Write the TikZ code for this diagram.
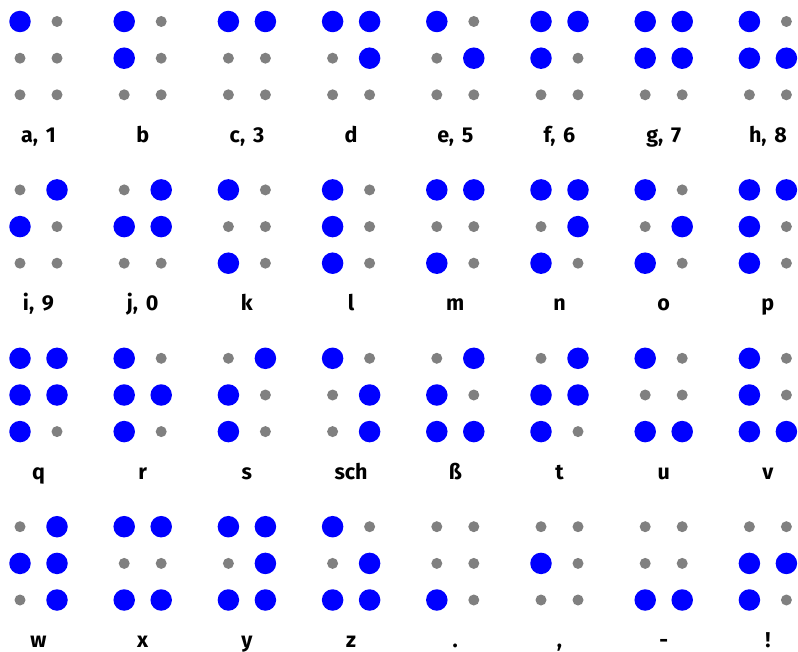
\documentclass[tikz,border=0pt]{standalone}
\usepackage{fontspec}
\setmainfont{Fira Sans}
\definecolor{brblue}{RGB}{0,0,255}
\definecolor{brgray}{RGB}{128,128,128}
\newcommand\brlblfont{\bfseries\fontsize{21.5}{23}\selectfont}
\tikzset{
  bd/.style={circle, fill=brblue, inner sep=0pt, minimum size=21.5pt},
  gd/.style={circle, fill=brgray, inner sep=0pt, minimum size=11pt},
  lbl/.style={font=\brlblfont, anchor=base, inner sep=0pt}
}
\newcommand\brcell[9]{%
  \pgfmathsetmacro\cx{20+104.2*#1}%
  \pgfmathsetmacro\cy{21.5+168.4*#2}%
  \node[#3] (c#1r#2d1) at (\cx, -\cy) {};
  \node[#4] (c#1r#2d2) at (\cx, -\cy-36.7) {};
  \node[#5] (c#1r#2d3) at (\cx, -\cy-73.3) {};
  \node[#6] (c#1r#2d4) at (\cx+37, -\cy) {};
  \node[#7] (c#1r#2d5) at (\cx+37, -\cy-36.7) {};
  \node[#8] (c#1r#2d6) at (\cx+37, -\cy-73.3) {};
  \node[lbl] (c#1r#2l) at (\cx+18.5, -\cy-120.8) {\spaceskip=0.36em #9};
}
\begin{document}
\begin{tikzpicture}[x=1pt,y=1pt]
\useasboundingbox (0,0) rectangle (798,-652);
% row 1
\brcell{0}{0}{bd}{gd}{gd}{gd}{gd}{gd}{a, 1}
\brcell{1}{0}{bd}{bd}{gd}{gd}{gd}{gd}{b}
\brcell{2}{0}{bd}{gd}{gd}{bd}{gd}{gd}{c, 3}
\brcell{3}{0}{bd}{gd}{gd}{bd}{bd}{gd}{d}
\brcell{4}{0}{bd}{gd}{gd}{gd}{bd}{gd}{e, 5}
\brcell{5}{0}{bd}{bd}{gd}{bd}{gd}{gd}{f, 6}
\brcell{6}{0}{bd}{bd}{gd}{bd}{bd}{gd}{g, 7}
\brcell{7}{0}{bd}{bd}{gd}{gd}{bd}{gd}{h, 8}
% row 2
\brcell{0}{1}{gd}{bd}{gd}{bd}{gd}{gd}{i, 9}
\brcell{1}{1}{gd}{bd}{gd}{bd}{bd}{gd}{j, 0}
\brcell{2}{1}{bd}{gd}{bd}{gd}{gd}{gd}{k}
\brcell{3}{1}{bd}{bd}{bd}{gd}{gd}{gd}{l}
\brcell{4}{1}{bd}{gd}{bd}{bd}{gd}{gd}{m}
\brcell{5}{1}{bd}{gd}{bd}{bd}{bd}{gd}{n}
\brcell{6}{1}{bd}{gd}{bd}{gd}{bd}{gd}{o}
\brcell{7}{1}{bd}{bd}{bd}{bd}{gd}{gd}{p}
% row 3
\brcell{0}{2}{bd}{bd}{bd}{bd}{bd}{gd}{q}
\brcell{1}{2}{bd}{bd}{bd}{gd}{bd}{gd}{r}
\brcell{2}{2}{gd}{bd}{bd}{bd}{gd}{gd}{s}
\brcell{3}{2}{bd}{gd}{gd}{gd}{bd}{bd}{sch}
\brcell{4}{2}{gd}{bd}{bd}{bd}{gd}{bd}{ß}
\brcell{5}{2}{gd}{bd}{bd}{bd}{bd}{gd}{t}
\brcell{6}{2}{bd}{gd}{bd}{gd}{gd}{bd}{u}
\brcell{7}{2}{bd}{bd}{bd}{gd}{gd}{bd}{v}
% row 4
\brcell{0}{3}{gd}{bd}{gd}{bd}{bd}{bd}{w}
\brcell{1}{3}{bd}{gd}{bd}{bd}{gd}{bd}{x}
\brcell{2}{3}{bd}{gd}{bd}{bd}{bd}{bd}{y}
\brcell{3}{3}{bd}{gd}{bd}{gd}{bd}{bd}{z}
\brcell{4}{3}{gd}{gd}{bd}{gd}{gd}{gd}{.}
\brcell{5}{3}{gd}{bd}{gd}{gd}{gd}{gd}{,}
\brcell{6}{3}{gd}{gd}{bd}{gd}{gd}{bd}{-}
\brcell{7}{3}{gd}{bd}{bd}{gd}{bd}{gd}{!}
\end{tikzpicture}
\end{document}
